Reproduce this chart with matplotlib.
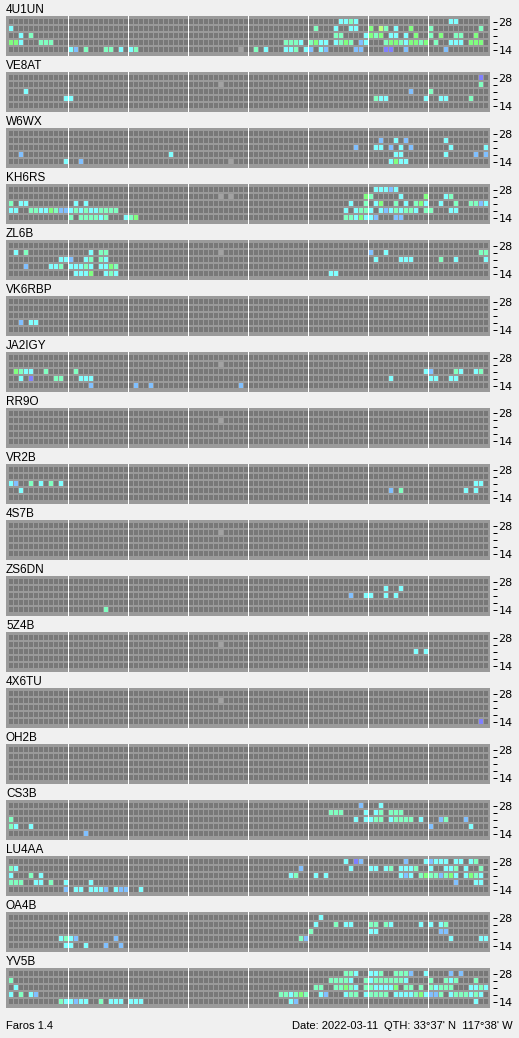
import matplotlib
matplotlib.use("Agg")
import matplotlib.pyplot as plt

# beacon monitor: one panel per station, 96 quarter-hour slots x 5 bands
stations = ["4U1UN", "VE8AT", "W6WX", "KH6RS", "ZL6B", "VK6RBP", "JA2IGY", "RR9O", "VR2B",
            "4S7B", "ZS6DN", "5Z4B", "4X6TU", "OH2B", "CS3B", "LU4AA", "OA4B", "YV5B"]
bands = ["28", "", "", "", "14"]   # rows top -> bottom: 28, 24, 21, 18, 14 MHz

# "slot+code" per band row, codes -> colours below
heard_4u1un = ["66c 67c 68a 69c 88c 89c",
               "0c 61a 65c 68c 69c 72g 74y 75a 77c 80g 84a 94a",
               "2c 4a 65a 66a 71c 72g 73a 74g 76c 77c 79c 81g 84a 86g 89a 90a 93g",
               "0g 1g 2c 6a 7a 8a 55a 56a 57a 58c 60a 61g 62c 63c 65c 66a 67g 68a 70b 71c 75a 76g 77g 78a 79c "
               "80g 81g 82a 83g 85a 88c 89c 90c 92g 93g 94g",
               "12c 13b 15a 19a 20a 22c 24c 25a 46x 49a 51c 55c 56c 57a 59c 60b 62c 63b 69b 70b 75p 76p 79b 87b"]
heard_ve8at = ["94p", "42x 94a", "3c 80b 84a", "11c 12c 73a 74c 75c 83c 86c 87c 92a", ""]
heard_w6wx = ["", "74b 77c 79b 87c", "69b 73c 74c 76b 78c 80b 88c 95c",
              "2b 32c 77c 78c 87c 93b 95b", "11c 14b 44x 76c 77g 78c 79c"]
heard_kh6rs = ["73c 74c 75c 76b 77c",
               "42x 44x 71g 72a 78c 83g 87c 88a",
               "0a 2c 3c 13c 15c 68c 71a 73c 74g 77a 79c 81a 82g 83c 86c 89a 92a 93a 94b 95c",
               "0c 1c 4a 5a 6c 7c 8g 9a 10b 11b 12c 13a 14c 15a 16c 17c 18a 19a 20a 21a 67c 69c 70a 71a 72c "
               "74c 75b 76c 77a 78c 79a 80a 81c 83a 84a 88c 89c",
               "12a 14a 15a 16a 17a 18c 19a 23c 24a 25g 67a 68a 69c 70g 71c 72c 73b 77b 78b"]
heard_zl6b = ["", "1c 3a 16c 18a 19a 42x 72b 75c 94a 95a",
              "10c 11c 12b 15c 16a 18a 19c 73c 78c 79c 80c 86a 89c 95c",
              "3b 8c 9c 10a 12c 13c 14c 15a 16c 18c 19c 20g 21a",
              "13c 14c 15c 16g 19c 20a 21c 64c 65c"]
heard_vk6rbp = ["", "", "", "2b 4c 5c", ""]
heard_ja2igy = ["", "42x", "1g 2a 3c 4c 7a 13a 83c 84b 89a 90c 93c 94a",
                "2c 4p 9a 10a 14c 15c 16c 76c 84c 85c 88c 89c", "16b 25b 28b 46b"]
heard_rr9o = ["", "42x", "", "", ""]
heard_vr2b = ["", "", "0c 1b 4a 6c 8a 10c 93c 94c", "2c 76b 78a 91c 93c", ""]
heard_4s7b = ["", "42x", "", "", ""]
heard_zs6dn = ["", "75c 78c", "68b 71c 72c 75c 77c", "", "19a"]
heard_5z4b = ["", "42x", "81c 83c", "", ""]
heard_4x6tu = ["", "42x", "", "", "94p"]
heard_oh2b = ["", "", "", "", ""]
heard_cs3b = ["70b 74c", "64a 65a 66a 71c 73c 74a 76a 77a 78a",
              "0a 69c 71c 72c 73a 74a 76c 77a 78a 79a 80a 82c 86b 87a 91b",
              "0a 1c 4c 84b 92c", "15b"]
heard_lu4aa = ["67c 69p 70b 79b 83c 84b 85c 86c 87c 89c 90c 92c 93a",
               "0a 1c 58b 68c 72c 73c 75c 76a 78c 79c 80c 81a 84c 87c 88c 89a 91c 94a",
               "0c 4a 6c 56c 57a 61c 63c 78c 79b 80c 82a 83g 84a 85a 86b 87a 88g 89c 91c 92g 93a 94c",
               "0a 1a 2a 5c 6c 8a 11c 16c 89b 93c 94c",
               "11b 13c 14c 16c 17c 18c 19b 21c 22b 23b 26c"]
heard_oa4b = ["62c", "61c 65a 67c 68c 72a 73a 75a 76c 82c 84c 86c 87a",
              "60a 72c 73c 86b 87b",
              "10c 11a 12c 13b 21b 58a 59b 88c 94c 95c",
              "11c 12c 15c 19b 22b"]
heard_yv5b = ["67a 68a 69c 72c 73c 74a 77a 78a 79a 80b 83c 88b 90b",
              "0a 64a 65a 66a 67a 68c 71a 72c 73a 74a 75a 76a 77a 78a 79c 84a 87a 88c 89a 93a",
              "1c 61a 62a 65a 66a 67g 68a 69c 71a 72a 73c 74c 75c 76c 77g 79a 80a 82a 84a 85c 86a 87a 88a "
              "92c 93c 94a 95c",
              "0c 2a 4c 5b 54a 55a 56c 57a 58g 59a 62c 63b 67c 68a 69a 71c 72a 73a 74a 75a 77c 78c 79c 80c "
              "81a 82g 83c 84b 85b 86a 88c 89a 90a 91a 92c 93a 94c",
              "10a 11c 12c 13b 14c 15c 18a 20c 21c 22c 24c 25c 26c 56c 57b 93c"]

heard = [heard_4u1un, heard_ve8at, heard_w6wx, heard_kh6rs, heard_zl6b, heard_vk6rbp,
         heard_ja2igy, heard_rr9o, heard_vr2b, heard_4s7b, heard_zs6dn, heard_5z4b,
         heard_4x6tu, heard_oh2b, heard_cs3b, heard_lu4aa, heard_oa4b, heard_yv5b]

colours = {"c": "#80ffff", "a": "#80ffc0", "g": "#80ff80", "b": "#80c0ff",
           "p": "#8080ff", "y": "#c0ff80", "x": "#a2a2a2"}
EMPTY = "#787878"
PANEL = "#9a9a9a"
BG = "#f0f0f0"
FONT = "Liberation Sans"

W, H = 519, 1038
SLOTS = 96


def parse(row):
    out = {}
    for tok in row.split():
        out[int(tok[:-1])] = tok[-1]
    return out


fig = plt.figure(figsize=(W / 100, H / 100), dpi=100, facecolor=BG)

for i, (name, rows) in enumerate(zip(stations, heard)):
    top = 16 + 56 * i
    ax = fig.add_axes([6 / W, 1 - (top + 40) / H, 484 / W, 40 / H])
    ax.set_facecolor(PANEL)
    for r, row in enumerate(rows):
        marks = parse(row)
        cols = [colours[marks[k]] if k in marks else EMPTY for k in range(SLOTS)]
        ax.bar(range(SLOTS), 5 / 7, bottom=r, width=0.8, align="edge",
               color=cols, linewidth=0, antialiased=False)
    for j in range(1, 8):
        ax.axvline(12 * j - 0.2, color="white", lw=0.72, antialiased=False)
    ax.set_xlim(-0.6, 96.2)
    ax.set_ylim((40 - 3) / 7, -3 / 7)
    ax.set_xticks([])
    ax.yaxis.tick_right()
    ax.set_yticks([r + 2.5 / 7 for r in range(5)])
    ax.set_yticklabels(bands, fontfamily=FONT)
    ax.tick_params(axis="y", length=2.9, width=0.72, color="black", pad=1, labelsize=8)
    ax.spines["right"].set_position(("outward", 2.2))
    for s in ax.spines.values():
        s.set_visible(False)
    fig.text(6 / W, 1 - (top - 3) / H, name, fontsize=8.5, fontfamily=FONT, va="baseline")

fig.text(6 / W, 1 - 1029 / H, "Faros 1.4", fontsize=8, fontfamily=FONT, va="baseline")
fig.text(292 / W, 1 - 1029 / H, "Date: 2022-03-11", fontsize=8, fontfamily=FONT, va="baseline")
fig.text(513 / W, 1 - 1029 / H, "QTH: 33\u00b037' N  117\u00b038' W", fontsize=8,
         fontfamily=FONT, va="baseline", ha="right")

fig.savefig("out.png", dpi=100, facecolor=BG)
